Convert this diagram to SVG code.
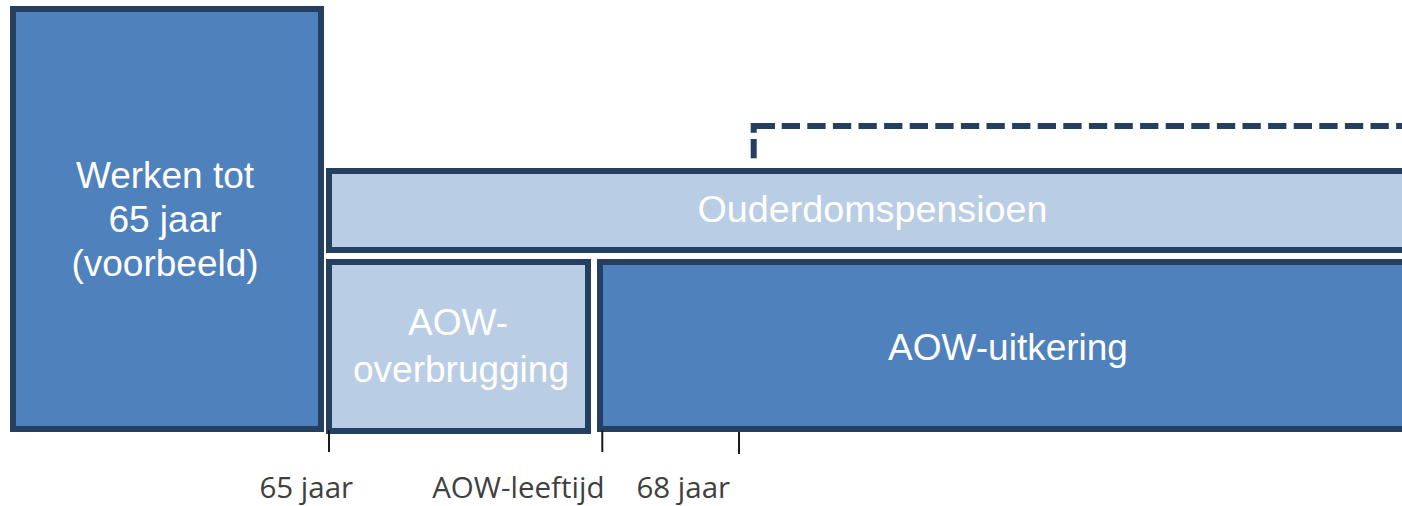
<svg xmlns="http://www.w3.org/2000/svg" width="1402" height="506" viewBox="0 0 1402 506">
<style>
.box{stroke:#243F60;stroke-width:6;}
.dark{fill:#4F81BD;}
.light{fill:#B9CDE5;}
.lbl{font-family:"Liberation Sans",Arial,sans-serif;font-size:37px;fill:#FFFFFF;text-anchor:middle;}
.axis{font-family:"Open Sans","Liberation Sans",sans-serif;font-size:29.5px;fill:#404040;text-anchor:middle;}
.tick{stroke:#1a1a1a;stroke-width:2;fill:none;}
.dash{stroke:#243F60;stroke-width:6;fill:none;stroke-linecap:butt;stroke-linejoin:miter;}
</style>
<rect width="1402" height="506" fill="#FFFFFF"/>
<g id="werken">
<rect class="box dark" x="13" y="9" width="308" height="420"/>
<text class="lbl" x="165" y="188">Werken tot</text>
<text class="lbl" x="165" y="232">65 jaar</text>
<text class="lbl" x="165" y="276">(voorbeeld)</text>
</g>
<g id="ouderdomspensioen">
<rect class="box light" x="329" y="171" width="1090" height="79"/>
<text class="lbl" x="872.5" y="222" textLength="350" lengthAdjust="spacingAndGlyphs">Ouderdomspensioen</text>
</g>
<g id="aow-overbrugging">
<rect class="box light" x="329" y="262" width="259" height="169"/>
<text class="lbl" x="458" y="335">AOW-</text>
<text class="lbl" x="461" y="382">overbrugging</text>
</g>
<g id="aow-uitkering">
<rect class="box dark" x="600" y="262" width="820" height="167"/>
<text class="lbl" x="1008" y="360">AOW-uitkering</text>
</g>
<g id="connectors">
<path class="dash" d="M753.7,158.3 V139"/>
<path class="dash" d="M753.7,132.7 V126 H775"/>
<path class="dash" d="M781.7,126 H1402" stroke-dasharray="18.3 7.3"/>
</g>
<g id="axis">
<line class="tick" x1="329" y1="430" x2="329" y2="452"/>
<line class="tick" x1="602.3" y1="430" x2="602.3" y2="452"/>
<line class="tick" x1="739" y1="432" x2="739" y2="454"/>
<text class="axis" x="306.3" y="498">65 jaar</text>
<text class="axis" x="518.3" y="498">AOW-leeftijd</text>
<text class="axis" x="683.3" y="498">68 jaar</text>
</g>
</svg>
